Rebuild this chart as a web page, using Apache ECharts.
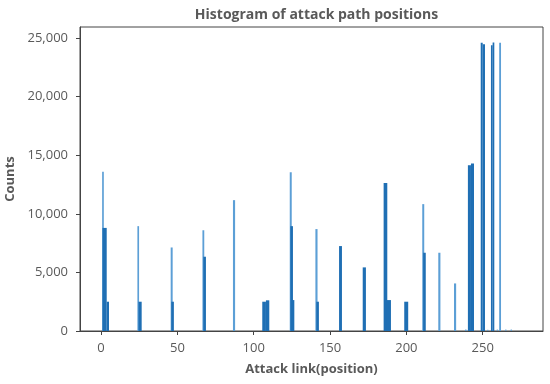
<!DOCTYPE html>
<html>
<head>
<meta charset="utf-8">
<script src="https://cdn.jsdelivr.net/npm/echarts@6/dist/echarts.min.js"></script>
<style>
html,body{margin:0;padding:0;background:#fff;}
#chart{width:550px;height:384px;}
</style>
</head>
<body>
<div id="chart"></div>
<script>
// Histogram bars: start position, end position, count
var binStart = [0.7, 0.9, 3.7, 23.8, 24.5, 45.6, 46.0, 66.4, 67.0, 86.4, 105.6, 108.0, 123.6, 124.0, 124.4, 140.4, 141.0, 155.9, 171.4, 185.1, 187.1, 198.6, 210.4, 211.0, 220.9, 231.2, 238.4, 240.3, 242.3, 248.7, 250.0, 253.0, 255.4, 256.5, 259.2, 260.8, 264.8, 268.3];
var binEnd   = [1.8, 3.7, 5.2, 24.9, 26.6, 46.9, 47.7, 67.6, 68.7, 87.8, 108.0, 110.2, 124.9, 125.7, 126.6, 141.8, 142.7, 157.8, 173.5, 187.5, 189.9, 201.2, 211.7, 212.7, 222.3, 232.6, 239.4, 242.3, 244.3, 250.0, 251.5, 253.7, 256.5, 257.6, 259.9, 262.0, 265.5, 269.1];
var counts   = [13600, 8800, 2500, 8950, 2500, 7130, 2500, 8600, 6340, 11170, 2500, 2620, 13550, 8950, 2640, 8700, 2500, 7250, 5430, 12640, 2640, 2500, 10830, 6680, 6680, 4060, 120, 14150, 14300, 24600, 24480, 100, 24400, 24620, 130, 24600, 120, 120];

var xTicks = [0, 50, 100, 150, 200, 250];
var yTicks = [0, 5000, 10000, 15000, 20000, 25000];

var titleText = 'Histogram of attack path positions';
var xName = 'Attack link(position)';
var yName = 'Counts';

var data = binStart.map(function (s, i) { return [s, binEnd[i], counts[i]]; });

var DARK = '#1f6fb4';
var LIGHT = '#5c9fd6';
var FONT = '"Open Sans", "Noto Sans", sans-serif';
var GREY = '#595959';

// a narrow bar with no touching neighbour is drawn in the lighter (anti-aliased) shade
function isThin(i) {
  var s = binStart[i], e = binEnd[i];
  if (e - s >= 1.6) return false;
  for (var j = 0; j < binStart.length; j++) {
    if (j === i) continue;
    if (Math.abs(binEnd[j] - s) < 1e-6 || Math.abs(binStart[j] - e) < 1e-6) return false;
  }
  return true;
}

var chart = echarts.init(document.getElementById('chart'), null, {renderer: 'canvas'});
chart.setOption({
  animation: false,
  backgroundColor: '#ffffff',
  title: {
    text: titleText,
    left: 311.5,
    textAlign: 'center',
    top: 3,
    textStyle: {fontFamily: FONT, fontSize: 14, fontWeight: 'bold', color: GREY}
  },
  grid: {
    left: 80, right: 7, top: 27, bottom: 53,
    outerBoundsMode: 'none',
    containLabel: false,
    show: true, borderColor: '#444', borderWidth: 1, backgroundColor: 'transparent'
  },
  xAxis: {
    type: 'value',
    min: -13.8, max: 289.5,
    name: xName,
    nameLocation: 'middle',
    nameGap: 32,
    nameTextStyle: {fontFamily: FONT, fontSize: 13, fontWeight: 'bold', color: GREY},
    axisLine: {show: true, onZero: false, lineStyle: {color: '#444'}},
    axisTick: {show: true, length: 4, customValues: xTicks, lineStyle: {color: '#444'}},
    axisLabel: {customValues: xTicks, margin: 11, fontFamily: FONT, fontSize: 13, color: GREY},
    splitLine: {show: false}
  },
  yAxis: {
    type: 'value',
    min: 0, max: 25950,
    name: yName,
    nameLocation: 'middle',
    nameGap: 61,
    nameTextStyle: {fontFamily: FONT, fontSize: 13, fontWeight: 'bold', color: GREY},
    axisLine: {show: true, onZero: false, lineStyle: {color: '#444'}},
    axisTick: {show: true, length: 4, customValues: yTicks, lineStyle: {color: '#444'}},
    axisLabel: {
      customValues: yTicks, margin: 12, fontFamily: FONT, fontSize: 13, color: GREY,
      formatter: function (v) { return Number(v).toLocaleString('en-US'); }
    },
    splitLine: {show: false}
  },
  series: [{
    type: 'custom',
    data: data,
    encode: {x: [0, 1], y: 2},
    renderItem: function (params, api) {
      var i = params.dataIndex;
      var x0 = api.value(0), x1 = api.value(1), y = api.value(2);
      var pTop = api.coord([x0, y]);
      var pBot = api.coord([x1, 0]);
      return {
        type: 'rect',
        shape: {x: pTop[0], y: pTop[1], width: pBot[0] - pTop[0], height: pBot[1] - pTop[1]},
        style: {fill: isThin(i) ? LIGHT : DARK}
      };
    }
  }]
});
</script>
</body>
</html>
